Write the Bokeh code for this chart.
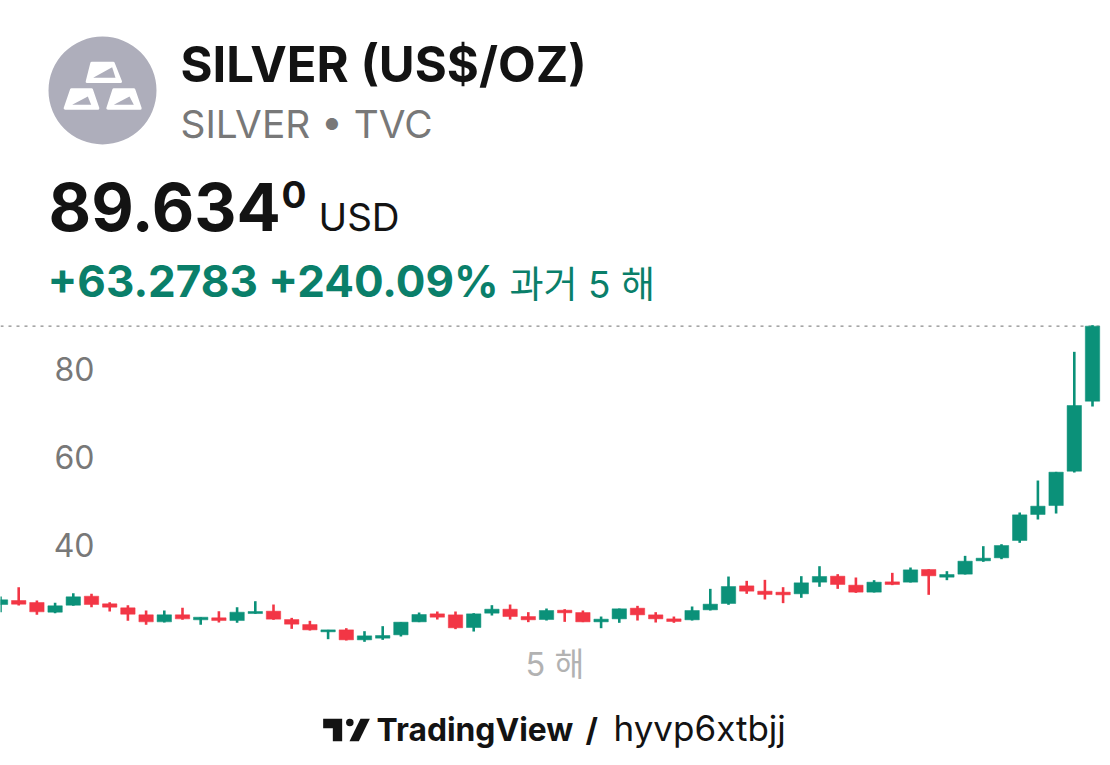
from bokeh.plotting import figure
from bokeh.models import ColumnDataSource, Label, LinearAxis, FixedTicker, Range1d
from bokeh.embed import file_html
from bokeh.resources import INLINE

opens = [26.36,27.27,26.82,24.62,26.21,28.25,26.51,25.60,24.01,22.42,24.01,22.88,23.33,22.72,24.31,24.85,22.95,21.81,20.15,20.60,
         18.33,18.71,19.47,22.42,24.24,24.01,21.13,24.39,25.30,23.63,22.95,25.07,24.54,22.42,23.10,25.53,24.01,23.10,22.88,25.15,
         26.59,30.60,29.39,29.17,28.79,31.44,32.80,30.76,29.17,31.51,31.44,34.32,32.57,33.26,36.29,36.97,40.91,46.82,48.86,56.66,72.57]
closes = [27.42,26.44,24.70,26.06,28.10,26.36,25.76,24.16,22.42,24.01,23.10,23.48,22.72,24.62,24.77,23.03,21.89,20.60,20.60,18.33,
          19.24,19.32,22.35,24.09,23.48,21.06,24.24,25.30,23.63,22.88,25.00,24.47,22.42,23.03,25.38,24.01,23.10,22.50,25.00,26.44,
          30.45,29.39,28.64,28.56,31.29,32.73,30.91,29.17,31.44,30.91,34.24,32.88,33.18,36.21,36.89,39.77,46.74,48.71,56.44,71.59,89.63]
highs = [28.18,30.30,27.27,26.74,28.94,28.78,26.89,26.21,25.00,25.00,25.60,23.48,24.85,25.76,27.12,26.36,23.33,22.65,20.60,20.98,
         20.30,21.44,22.35,24.54,24.77,24.77,24.39,26.21,26.36,24.62,25.45,25.30,25.00,23.63,25.45,26.06,24.62,23.63,25.91,29.92,
         32.72,31.74,31.97,30.30,32.80,35.07,33.26,32.50,31.89,33.56,34.77,34.39,33.94,37.42,39.62,40.07,47.27,54.54,56.51,83.79,89.85]
lows = [24.62,26.14,24.01,24.39,26.06,25.76,24.77,22.65,21.74,22.27,22.88,21.74,22.27,22.20,24.24,22.88,20.83,20.45,18.48,18.18,
        17.88,18.33,19.09,22.35,22.95,20.76,20.22,23.86,22.95,22.35,22.72,22.42,22.35,20.98,22.20,22.72,22.27,22.20,22.72,25.00,
        26.29,28.79,27.50,26.67,27.88,30.38,29.92,29.01,29.09,30.76,31.36,28.56,31.89,33.18,36.06,36.66,40.38,45.68,47.04,56.36,71.36]
tick_values = [40, 60, 80]
last_price = 89.634

GREEN = "#0B9179"
TEXT_GREEN = "#0A7F6A"
RED = "#F23645"
INK = "#131313"
FONT = "Inter, 'Noto Sans CJK KR', sans-serif"
W, H = 1110, 765
PX_PER_BAR = 18.2
PX_PER_USD = 4.4
BASELINE_SHIFT = 0.39


def dx(px):
    return px / PX_PER_BAR


def dy(py):
    return 40 + (544 - py) / PX_PER_USD


x = list(range(len(opens)))
colors = [GREEN if c >= o else RED for o, c in zip(opens, closes)]
src = ColumnDataSource(dict(x=x, open=opens, close=closes, high=highs, low=lows, color=colors))

p = figure(width=W, height=H, output_backend="svg", toolbar_location=None,
           x_range=Range1d(dx(0), dx(W)), y_range=Range1d(dy(H), dy(0)),
           x_axis_type=None, y_axis_type=None, min_border=0,
           outline_line_color=None, background_fill_color="white")
p.grid.visible = False

# price axis drawn inside the plot
axis = LinearAxis(ticker=FixedTicker(ticks=tick_values), fixed_location=dx(100))
axis.axis_line_color = None
axis.major_tick_line_color = None
axis.minor_tick_line_color = None
axis.major_label_standoff = 0
axis.major_label_text_font = FONT
axis.major_label_text_font_size = "32px"
axis.major_label_text_color = "#787878"
p.add_layout(axis, "left")

# dotted last-price line, ending at the right edge of the last candle
p.segment(x0=[dx(0)], x1=[len(opens) - 1 + 7.2 / PX_PER_BAR], y0=[last_price], y1=[last_price],
          line_color="#6E6E6E", line_width=1, line_dash="3 5")

p.segment(x0="x", x1="x", y0="low", y1="high", color="color", line_width=2.6, source=src)
p.vbar(x="x", width=14.4 / PX_PER_BAR, bottom="open", top="close", fill_color="color",
       line_color="color", line_width=0.5, source=src)


def label(px, baseline_py, text, size, color, style="normal", align="left"):
    p.add_layout(Label(x=px, y=H - baseline_py + BASELINE_SHIFT * size, x_units="screen", y_units="screen",
                       text=text, text_font=FONT, text_font_size=f"{size}px", text_color=color,
                       text_font_style=style, text_baseline="alphabetic", text_align=align))


label(180, 83, "SILVER (US$/OZ)", 49, INK, "bold")
label(180, 138, "SILVER • TVC", 38.8, "#787878")
label(48, 232, "89.634", 65.5, INK, "bold")
label(281, 208, "0", 37, INK, "bold")
label(318, 232, "USD", 38.5, INK)
label(47, 298, "+63.2783 +240.09%", 44, TEXT_GREEN, "bold")
label(509, 298, "과거 5 해", 37, TEXT_GREEN)
label(525, 677, "5 해", 32.5, "#B2B2B2")
label(376, 741, "TradingView", 31.8, INK, "bold")
label(585, 741, "/", 32, INK, "bold")
label(613, 741, "hyvp6xtbjj", 35, INK)

# round logo with three ingots
p.scatter([dx(102)], [dy(90)], size=108, marker="circle", fill_color="#AEAEBB", line_color=None)


def zlogo(points):
    return [dx(30 + a / 3) for a, b in points], [dy(20 + b / 3) for a, b in points]


ingots = [
    [(170, 183), (270, 183), (248, 128), (184, 128)],
    [(104, 263), (202, 263), (183, 208), (123, 208)],
    [(232, 263), (329, 263), (310, 208), (250, 208)],
]
wedges = [
    [(188, 172), (245, 140), (255, 172)],
    [(125, 253), (172, 228), (182, 253)],
    [(250, 253), (297, 228), (310, 253)],
]
for shape in ingots:
    xs, ys = zlogo(shape)
    p.patch(xs, ys, fill_color="white", line_color="white", line_width=3, line_join="round")
for shape in wedges:
    xs, ys = zlogo(shape)
    p.patch(xs, ys, fill_color="#AEAEBB", line_color=None)


def zbrand(points):
    return [dx(310 + a / 3) for a, b in points], [dy(700 + b / 3) for a, b in points]


xs, ys = zbrand([(38, 55), (95, 55), (95, 122), (67, 122), (67, 83), (38, 83)])
p.patch(xs, ys, fill_color=INK, line_color=None)
xs, ys = zbrand([(150, 55), (178, 55), (145, 122), (117, 122)])
p.patch(xs, ys, fill_color=INK, line_color=None)
p.scatter([dx(310 + 118 / 3)], [dy(700 + 66 / 3)], size=7.5, marker="circle",
          fill_color=INK, line_color=None)

open("out.html", "w").write(file_html(p, INLINE))
